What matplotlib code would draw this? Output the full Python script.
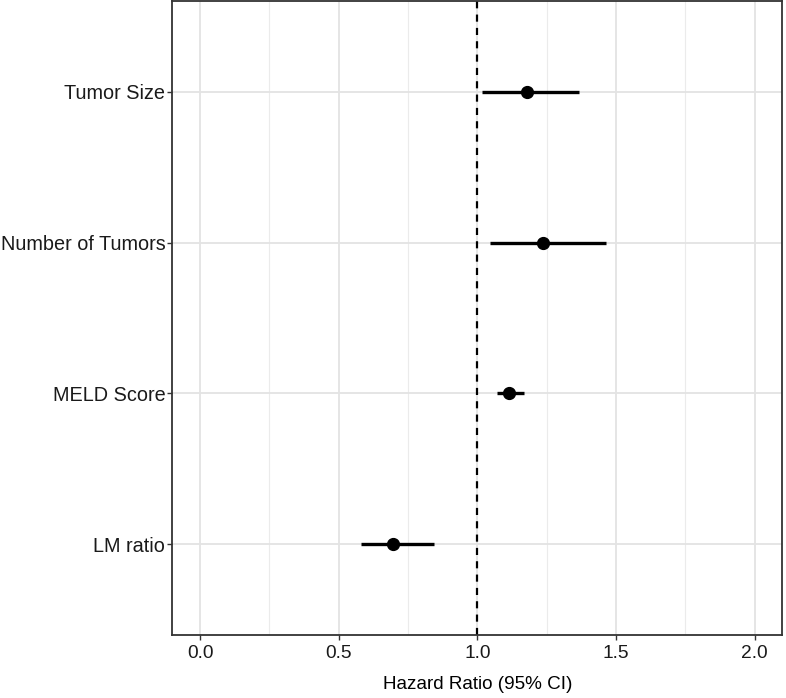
import matplotlib
matplotlib.use("Agg")
import matplotlib.pyplot as plt
from matplotlib.ticker import MultipleLocator

plt.rcParams['font.family'] = ['Liberation Sans', 'DejaVu Sans']

categories = ["LM ratio", "MELD Score", "Number of Tumors", "Tumor Size"]
hr = [0.697, 1.116, 1.236, 1.180]
ci_low = [0.579, 1.071, 1.044, 1.017]
ci_high = [0.843, 1.168, 1.464, 1.367]
x_ticks = [0.0, 0.5, 1.0, 1.5, 2.0]
x_tick_labels = ["0.0", "0.5", "1.0", "1.5", "2.0"]

fig = plt.figure(figsize=(7.86, 6.98), dpi=100)
ax = fig.add_axes([172.3 / 786, (698 - 635) / 698, (782.3 - 172.3) / 786, 634 / 698])

ypos = list(range(1, len(categories) + 1))

ax.set_xlim(-0.1, 2.1)
ax.set_ylim(0.4, len(categories) + 0.6)

ax.set_xticks(x_ticks)
ax.set_xticklabels(x_tick_labels)
ax.xaxis.set_minor_locator(MultipleLocator(0.25))
ax.set_yticks(ypos)
ax.set_yticklabels(categories)

ax.grid(which='major', color='#E3E3E3', linewidth=1.3)
ax.grid(which='minor', axis='x', color='#EBEBEB', linewidth=0.8)
ax.set_axisbelow(True)

ax.axvline(1.0, color='black', linewidth=1.6, linestyle=(0, (3.2, 2.8)), zorder=2)

ax.hlines(ypos, ci_low, ci_high, color='black', linewidth=2.4, zorder=3)
ax.plot(hr, ypos, 'o', color='black', markersize=8.5, zorder=4)

for s in ax.spines.values():
    s.set_color('#333333')
    s.set_linewidth(1.3)

ax.tick_params(axis='both', which='major', length=3.5, width=1.0, color='#333333',
               labelcolor='#1a1a1a')
ax.tick_params(axis='x', pad=4, labelsize=13.8)
ax.tick_params(axis='y', pad=1.5, labelsize=14.3)
ax.tick_params(which='minor', length=0)

ax.set_xlabel("Hazard Ratio (95% CI)", fontsize=13.6, color='black', labelpad=10)

fig.savefig("out.png", dpi=100)
